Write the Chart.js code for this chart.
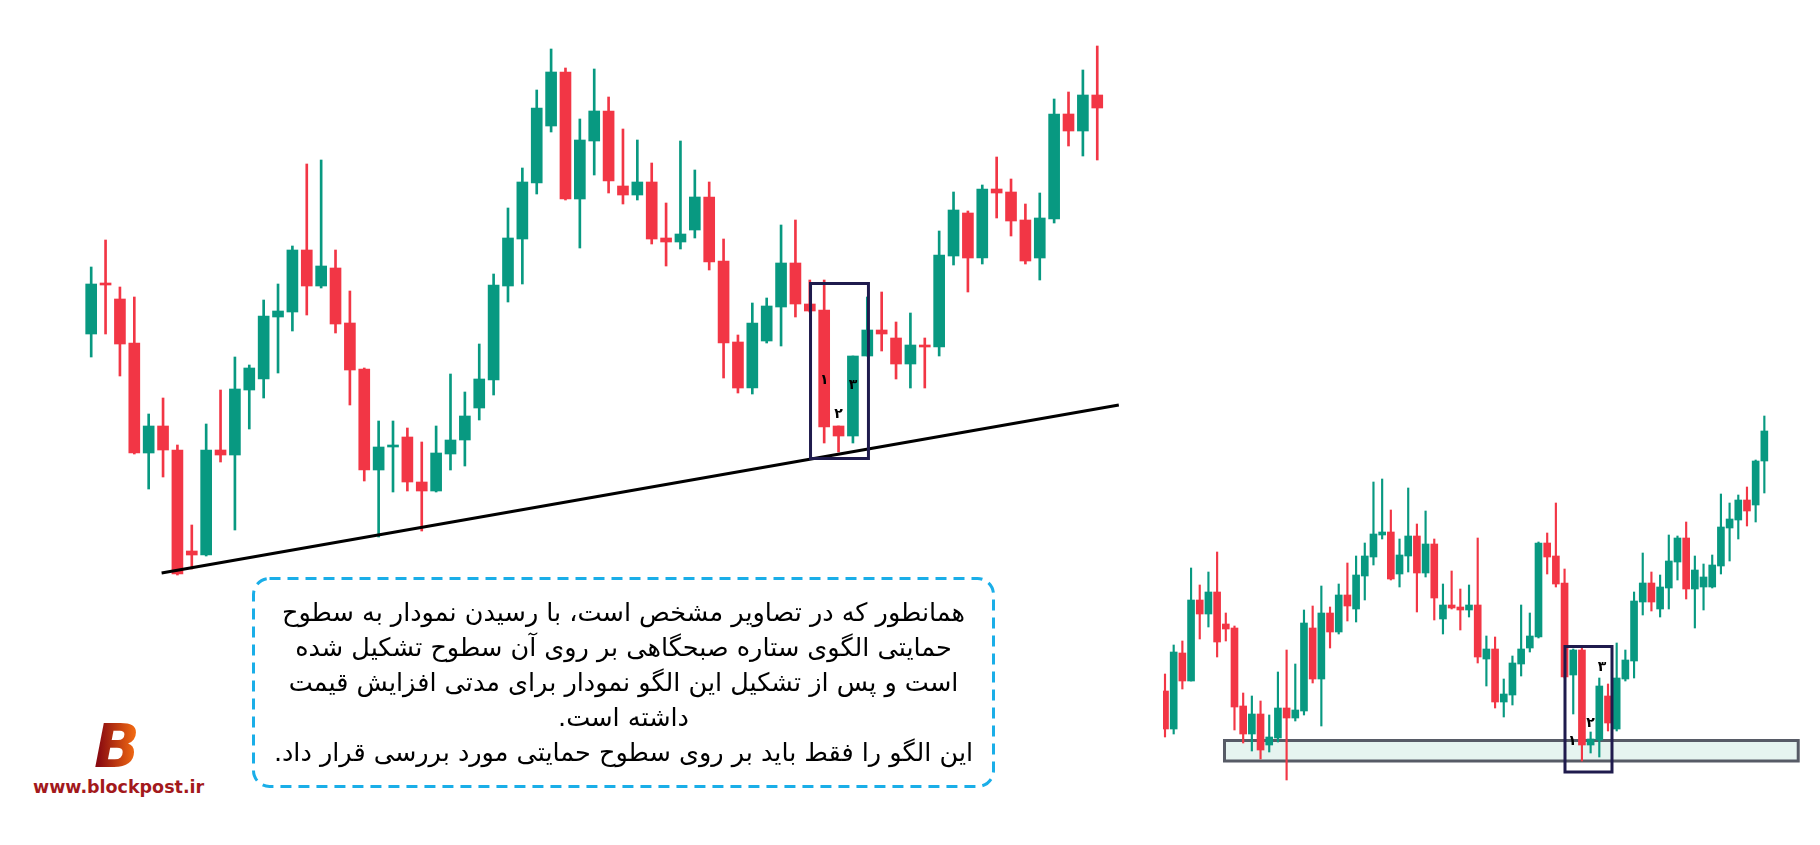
<!DOCTYPE html>
<html lang="fa">
<head>
<meta charset="utf-8">
<title>الگوی ستاره صبحگاهی</title>
<script src="https://cdn.jsdelivr.net/npm/chart.js@4.4.1/dist/chart.umd.min.js"></script>
<style>
    html, body { margin: 0; padding: 0; background: #fff; }
    body { width: 1820px; height: 845px; position: relative; overflow: hidden; }
    canvas { position: absolute; }
    #leftChart { left: 84px; top: 40px; }
    #rightChart { left: 1163px; top: 400px; }
    #note { position: absolute; left: 252px; top: 577px; width: 743px; height: 211px; }
    #note svg { position: absolute; left: 0; top: 0; }
    #note .lines {
        position: absolute; left: 0; top: 18px; width: 743px;
        direction: rtl; text-align: center;
        font-family: "DejaVu Sans", sans-serif; font-size: 25.5px; line-height: 35px; color: #000;
    }
    #logoB {
        position: absolute; left: 94px; top: 716px;
        font: italic bold 60px/60px "DejaVu Sans", sans-serif;
        background: linear-gradient(90deg, #8a0b10 10%, #f26a12 90%);
        -webkit-background-clip: text; background-clip: text; color: transparent;
    }
    #logoUrl {
        position: absolute; left: 33px; top: 777px;
        font: bold 17.5px/20px "DejaVu Sans", sans-serif; color: #a3191c;
    }
</style>
</head>
<body>
<canvas id="leftChart" width="1042" height="550"></canvas>
<canvas id="rightChart" width="640" height="390"></canvas>

<div id="note">
    <svg width="743" height="211">
        <rect x="1.5" y="1.5" width="740" height="208" rx="16" ry="16"
              fill="none" stroke="#1aaee8" stroke-width="3" stroke-dasharray="11 7"/>
    </svg>
    <div class="lines">
        <div>همانطور که در تصاویر مشخص است، با رسیدن نمودار به سطوح</div>
        <div>حمایتی الگوی ستاره صبحگاهی بر روی آن سطوح تشکیل شده</div>
        <div>است و پس از تشکیل این الگو نمودار برای مدتی افزایش قیمت</div>
        <div>داشته است.</div>
        <div>این الگو را فقط باید بر روی سطوح حمایتی مورد بررسی قرار داد.</div>
    </div>
</div>

<div id="logoB">B</div>
<div id="logoUrl">www.blockpost.ir</div>

<script>
// ---- left chart: price (one unit = one pixel) ----
const leftOpen  = [266,316,301,257,147,174,150,49,45,150,145,210,221,283,288,350,314,332,277,231,130,153,163,118,109,146,160,192,220,314,361,417,474,528,401,459,489,414,405,418,362,358,370,403,339,258,212,259,293,337,296,290,174,164,244,270,262,236,255,253,344,387,342,411,408,380,342,381,486,469,505];
const leftHigh  = [333,360,313,303,186,202,155,75,176,210,243,235,300,316,354,436,440,350,309,232,179,179,172,158,174,226,208,256,326,392,432,510,551,532,481,531,503,471,460,437,397,459,430,418,361,265,297,302,375,380,320,320,174,244,303,308,278,287,262,369,408,389,415,443,421,396,407,501,508,530,554];
const leftLow   = [243,266,224,146,111,123,25,31,44,138,70,171,202,227,269,285,312,267,195,119,63,108,109,69,108,130,134,180,205,298,316,406,468,400,352,425,407,396,400,356,334,351,362,330,222,207,206,257,254,283,288,157,148,157,244,249,221,212,212,244,335,308,336,382,364,336,320,377,454,444,440];
const leftClose = [316,315,256,147,174,150,26,45,150,145,211,232,284,289,350,314,334,276,230,130,153,154,118,109,147,160,184,221,315,362,418,492,528,401,460,489,419,405,418,361,358,366,403,338,257,212,277,294,337,296,289,173,164,244,270,266,236,255,253,345,390,342,411,407,379,339,382,486,469,505,492];

// support trend line (candle index, price)
const trendX = [5.9, 72.5];
const trendY = [27, 195];

// pattern box and its labels
const leftBoxX = [51.05, 55.08];
const leftBoxY = [141.5, 316.5];
const leftLabels = ['۱', '۲', '۳'];
const leftLabelX = [52, 53, 54];
const leftLabelY = [220, 186, 215];

// ---- right chart ----
const rightOpen  = [109,71,147,119,200,186,208,176,172,94,66,86,55,62,92,82,89,172,121,187,168,205,191,224,243,265,268,226,244,264,227,256,181,195,193,190,195,141,151,98,105,136,152,163,257,244,217,125,150,55,60,104,71,121,139,198,217,191,212,238,262,211,213,213,234,272,280,300,295,339];
const rightHigh  = [126,155,159,232,215,228,248,187,174,107,104,99,85,128,150,136,190,194,214,193,216,237,244,257,318,321,290,261,312,276,289,261,216,229,211,215,262,164,163,121,144,195,187,258,267,297,231,151,152,68,122,116,157,150,208,247,228,225,265,264,278,244,236,245,306,297,305,313,340,384];
const rightLow   = [63,66,111,119,161,173,143,159,70,57,49,41,48,58,20,79,85,117,74,152,166,179,178,200,235,261,220,213,228,188,223,180,166,191,170,183,137,114,92,83,95,124,148,162,226,213,122,86,39,47,43,69,69,119,122,185,189,183,191,220,201,172,190,212,226,239,261,274,278,307];
const rightClose = [71,148,119,200,186,208,158,171,93,66,86,50,63,92,82,90,177,121,187,168,205,194,225,244,266,268,221,245,264,227,256,202,195,192,190,195,143,151,98,106,137,151,164,257,243,216,123,150,55,61,114,77,122,140,199,217,198,213,239,262,211,230,223,235,273,281,300,289,339,369];

// support zone, pattern box and labels
const zoneX = [7.85, 73.9];
const zoneY = [39, 59.5];
const rightBoxX = [47.05, 52.46];
const rightBoxY = [28, 153.5];
const rightLabels = ['۱', '۲', '۳'];
const rightLabelX = [47.9, 50, 51.3];
const rightLabelY = [59, 77, 133];

const UP = '#089981';
const DOWN = '#f23645';
const NAVY = '#1f1b4d';

// bodies and wicks as two floating bar sets on the same x
function candleSets(open, high, low, close, bodyW, wickW) {
    const colors = close.map((c, i) => c >= open[i] ? UP : DOWN);
    return [
        {
            type: 'bar',
            data: open.map((o, i) => ({ x: i + 1, y: [o, close[i]] })),
            backgroundColor: colors,
            barThickness: bodyW,
            minBarLength: 2,
            grouped: false,
            order: 1
        },
        {
            type: 'bar',
            data: high.map((h, i) => ({ x: i + 1, y: [low[i], h] })),
            backgroundColor: colors,
            barThickness: wickW,
            grouped: false,
            order: 2
        }
    ];
}

// boxes, zones and the ۱ ۲ ۳ marks, placed through the scales
function overlay(id, cfg) {
    const rect = (chart, xs, ys) => {
        const { x, y } = chart.scales;
        const x0 = x.getPixelForValue(xs[0]), x1 = x.getPixelForValue(xs[1]);
        const y0 = y.getPixelForValue(ys[1]), y1 = y.getPixelForValue(ys[0]);
        return [x0, y0, x1 - x0, y1 - y0];
    };
    return {
        id: id,
        beforeDatasetsDraw(chart) {
            if (!cfg.zone) return;
            const { ctx } = chart;
            const r = rect(chart, cfg.zone.x, cfg.zone.y);
            ctx.save();
            ctx.fillStyle = '#e6f4f0';
            ctx.fillRect(...r);
            ctx.lineWidth = 3;
            ctx.strokeStyle = '#575b66';
            ctx.strokeRect(...r);
            ctx.restore();
        },
        afterDatasetsDraw(chart) {
            const { ctx, scales } = chart;
            ctx.save();
            ctx.lineWidth = 3;
            ctx.strokeStyle = NAVY;
            ctx.strokeRect(...rect(chart, cfg.box.x, cfg.box.y));

            ctx.fillStyle = '#000';
            ctx.font = "bold 14px 'DejaVu Sans', sans-serif";
            ctx.textAlign = 'center';
            ctx.textBaseline = 'middle';
            cfg.labels.forEach((t, i) => {
                ctx.fillText(t, scales.x.getPixelForValue(cfg.labelX[i]), scales.y.getPixelForValue(cfg.labelY[i]));
            });
            ctx.restore();
        }
    };
}

function baseOptions(xMin, xMax, yMin, yMax) {
    return {
        responsive: false,
        animation: false,
        events: [],
        layout: { padding: 0 },
        plugins: { legend: { display: false }, tooltip: { enabled: false } },
        scales: {
            x: { type: 'linear', display: false, offset: false, min: xMin, max: xMax },
            y: { type: 'linear', display: false, min: yMin, max: yMax }
        }
    };
}

function renderLeft() {
    const datasets = candleSets(leftOpen, leftHigh, leftLow, leftClose, 11, 2);
    datasets.push({
        type: 'line',
        data: trendX.map((x, i) => ({ x: x, y: trendY[i] })),
        borderColor: '#000',
        borderWidth: 3,
        pointRadius: 0,
        order: 0
    });
    new Chart(document.getElementById('leftChart'), {
        type: 'bar',
        data: { datasets },
        options: baseOptions(0.5, 73, 10, 560),
        plugins: [overlay('leftMarks', {
            box: { x: leftBoxX, y: leftBoxY },
            labels: leftLabels, labelX: leftLabelX, labelY: leftLabelY
        })]
    });
}

function renderRight() {
    new Chart(document.getElementById('rightChart'), {
        type: 'bar',
        data: { datasets: candleSets(rightOpen, rightHigh, rightLow, rightClose, 7, 1.5) },
        options: baseOptions(0.77, 74.45, 10, 400),
        plugins: [overlay('rightMarks', {
            zone: { x: zoneX, y: zoneY },
            box: { x: rightBoxX, y: rightBoxY },
            labels: rightLabels, labelX: rightLabelX, labelY: rightLabelY
        })]
    });
}

renderLeft();
renderRight();
</script>
</body>
</html>
